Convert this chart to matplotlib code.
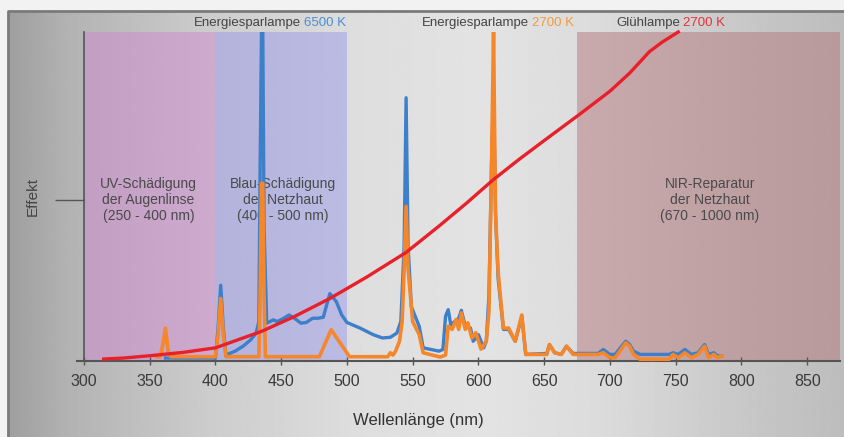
import matplotlib
matplotlib.use("Agg")
import matplotlib.pyplot as plt
import numpy as np

plt.rcParams['font.family'] = ['Liberation Sans', 'DejaVu Sans']

# wavelength (nm) / relative effect
cfl6500_nm = [362, 400, 402, 404, 406, 408, 409, 415, 421, 427, 431, 433, 434, 435, 436, 437, 439,
              444, 447, 452, 456, 460, 465, 469, 474, 478, 482, 487, 492, 496, 500, 510, 520, 527,
              533, 538, 541, 543.5, 545, 546.5, 549, 555, 558, 570, 573, 575, 577, 579, 582, 585,
              587, 590, 594, 596, 600, 604, 606, 608, 610, 611.5, 613, 615, 619, 623, 628, 633, 636,
              652, 654, 658, 663, 667, 672, 691, 695, 700, 704, 712, 715, 718, 723, 745, 748, 752,
              757, 762, 767, 772, 775, 779, 782, 785]
cfl6500_val = [0.9, 0.9, 10, 23, 10, 1.5, 2, 3, 4.5, 6.5, 8.5, 12, 60, 100, 100, 40, 11.5,
               12.5, 12, 13, 14, 13, 11.5, 11.7, 13, 13, 13.3, 20.5, 18, 14, 11.7, 10, 8, 7,
               7.2, 8.5, 12, 35, 80, 35, 16.5, 10.5, 4, 3, 3.5, 13.6, 15.6, 11, 12, 13,
               15.4, 10.6, 10, 6, 8, 4, 6, 20, 60, 81, 45, 25, 9.6, 9.6, 6, 13.6, 2,
               2.3, 5, 2.5, 2, 4.5, 2.3, 2.3, 3.5, 2, 2, 6, 5, 3, 2, 2, 2.5, 2,
               3.5, 2, 2.5, 5, 2, 2.5, 1.5, 1.5]

cfl2700_nm = [355, 358, 360, 362, 364, 366, 400, 402, 404, 406, 408, 433, 434, 435, 436, 437, 438,
              479, 488, 502, 531, 533, 535, 537, 540, 542, 543.5, 545, 546.5, 550, 555, 558, 571, 575,
              577, 580, 583, 585, 587, 590, 592, 595, 598, 602, 606, 608, 610, 611.5, 613, 615,
              619, 623, 628, 633, 636, 652, 654, 658, 663, 667, 672, 691, 695, 700, 704, 712, 715,
              718, 723, 745, 748, 752, 757, 762, 767, 772, 775, 779, 782, 785]
cfl2700_val = [1.3, 1.3, 5, 10, 3, 1.3, 1.3, 8, 19, 8, 1.3, 1.3, 20, 54, 54, 20, 1.3,
               1.3, 9.5, 1.3, 1.3, 2.5, 1.8, 3, 6, 12, 28, 47, 28, 12, 8, 2.5, 1.2, 1.8,
               10.6, 9.6, 12.6, 9.6, 14.6, 9.6, 11.6, 7, 8.6, 3.6, 6, 15, 60, 100, 45, 27,
               10, 10, 6, 14, 2, 2, 5, 2.5, 2, 4.5, 2, 2, 2.5, 1, 1, 5.5, 4.5,
               2, 0.5, 0.5, 2, 1, 2.5, 1, 2, 4.5, 1, 2, 1, 1.5]

gluh_nm = [315, 330, 350, 375, 400, 435, 460, 487, 515, 545, 570, 591, 611, 630, 650, 677, 700,
           715, 730, 740, 752]
gluh_val = [0.6, 0.9, 1.6, 2.6, 4, 9, 13.5, 19, 25.5, 33, 41, 48, 55, 61, 67, 75, 82,
            87.5, 94, 97, 100]

x_ticks = [300, 350, 400, 450, 500, 550, 600, 650, 700, 750, 800, 850]

regions = [(300, 400, '#d088d0', 'UV-Schädigung\nder Augenlinse\n(250 - 400 nm)', 349),
           (400, 500, '#9a9aea', 'Blau-Schädigung\nder Netzhaut\n(400 - 500 nm)', 451),
           (675, 875, '#b6787c', 'NIR-Reparatur\nder Netzhaut\n(670 - 1000 nm)', 776)]

W, H = 844, 437
fig = plt.figure(figsize=(W / 100, H / 100), dpi=100)
fig.patch.set_facecolor('#f2f2f2')

# brushed-metal like backdrop (plain gradient)
bg = fig.add_axes([0, 0, 1, 1], zorder=-10)
bg.set_xlim(0, W)
bg.set_ylim(H, 0)
bg.axis('off')
gx = np.array([0, 60, 200, 350, 480, 600, 750, 844])
gv = np.array([0.62, 0.70, 0.80, 0.87, 0.89, 0.86, 0.78, 0.74])
row = np.interp(np.arange(W), gx, gv)
grad = np.tile(row, (H, 1))
bg.imshow(grad, cmap='gray', vmin=0, vmax=1, extent=[8, W, H, 11], aspect='auto')
bg.plot([8, 8, W], [H, 11, 11], color='#7a7a7a', lw=2)

ax = fig.add_axes([77 / W, 1 - 361 / H, 763 / W, 329 / H])
ax.set_facecolor('none')
ax.set_xlim(294.7, 875)
ax.set_ylim(0, 100)

for x0, x1, col, label, lx in regions:
    ax.axvspan(x0, x1, color=col, alpha=0.5, lw=0, zorder=1)
    ax.text(lx, 49, label, ha='center', va='center', fontsize=10, color='#4a4a4a',
            linespacing=1.2, zorder=2)

ax.plot(cfl6500_nm, cfl6500_val, color='#3d7fc8', lw=2.4, zorder=3, solid_joinstyle='round')
ax.plot(cfl2700_nm, cfl2700_val, color='#f5862a', lw=2.6, zorder=4, solid_joinstyle='round')
ax.plot(gluh_nm, gluh_val, color='#e8202a', lw=2.4, zorder=5, clip_on=False)

for s in ['top', 'right']:
    ax.spines[s].set_visible(False)
ax.spines['left'].set_position(('data', 300))
ax.spines['left'].set_color('#555555')
ax.spines['bottom'].set_color('#555555')
ax.spines['left'].set_linewidth(1.2)
ax.spines['bottom'].set_linewidth(1.5)

ax.set_xticks(x_ticks)
ax.set_xticklabels([str(t) for t in x_ticks])
ax.tick_params(axis='x', direction='inout', length=6, width=1, color='#555555',
               labelsize=11.5, labelcolor='#3a3a3a', pad=6)
ax.set_yticks([49])
ax.set_yticklabels([''])
ax.tick_params(axis='y', direction='out', length=21, width=1, color='#555555')

fig.text(33 / W, 1 - 197 / H, 'Effekt', rotation=90, ha='center', va='center',
         fontsize=11, color='#444444')
fig.text(418 / W, 1 - 420 / H, 'Wellenlänge (nm)', ha='center', va='center',
         fontsize=12, color='#333333')

ty = 1 - 23 / H
titles = [(302, 'Energiesparlampe', '6500 K', '#4a8fd4'),
          (530, 'Energiesparlampe', '2700 K', '#f39a3c'),
          (681, 'Glühlampe', '2700 K', '#e8303a')]
for sx, a, b, c in titles:
    fig.text((sx - 1) / W, ty, a, ha='right', va='center', fontsize=9.5, color='#444444')
    fig.text((sx + 2) / W, ty, b, ha='left', va='center', fontsize=9.5, color=c)

fig.savefig('out.png', dpi=100)
